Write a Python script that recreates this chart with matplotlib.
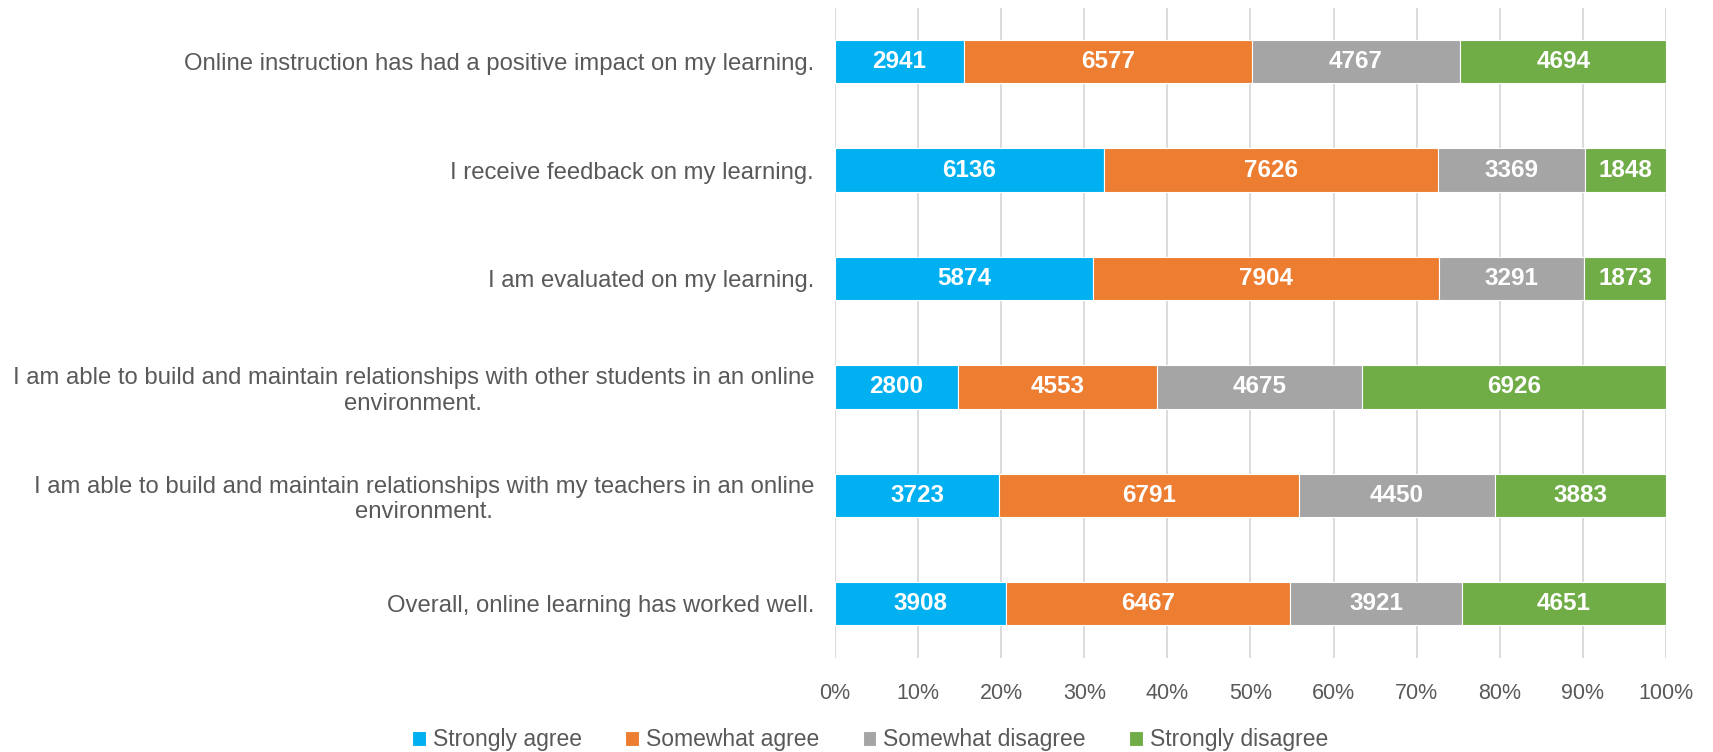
import matplotlib
matplotlib.use("Agg")
import matplotlib.pyplot as plt
import numpy as np

categories = [
    "Online instruction has had a positive impact on my learning.",
    "I receive feedback on my learning.",
    "I am evaluated on my learning.",
    "I am able to build and maintain relationships with other students in an online\nenvironment.",
    "I am able to build and maintain relationships with my teachers in an online\nenvironment.",
    "Overall, online learning has worked well.",
]
series_names = ["Strongly agree", "Somewhat agree", "Somewhat disagree", "Strongly disagree"]
strongly_agree = [2941, 6136, 5874, 2800, 3723, 3908]
somewhat_agree = [6577, 7626, 7904, 4553, 6791, 6467]
somewhat_disagree = [4767, 3369, 3291, 4675, 4450, 3921]
strongly_disagree = [4694, 1848, 1873, 6926, 3883, 4651]
colors = ["#00B0F0", "#ED7D31", "#A5A5A5", "#70AD47"]
xtick_labels = ["0%", "10%", "20%", "30%", "40%", "50%", "60%", "70%", "80%", "90%", "100%"]

plt.rcParams['font.family'] = ['Liberation Sans', 'DejaVu Sans']

data = np.array([strongly_agree, somewhat_agree, somewhat_disagree, strongly_disagree], dtype=float)
totals = data.sum(axis=0)
pct = data / totals

fig = plt.figure(figsize=(17.13, 7.52), dpi=100)
ax = fig.add_axes([0.4874, 0.125, 0.4852, 0.865])

y = np.arange(len(categories))
left = np.zeros(len(categories))
for i, name in enumerate(series_names):
    bars = ax.barh(y, pct[i], left=left, height=0.4, color=colors[i],
                   edgecolor="white", linewidth=0.8, label=name, zorder=3)
    for j, b in enumerate(bars):
        ax.text(left[j] + pct[i][j] / 2, y[j], f"{int(data[i][j])}", ha="center", va="center",
                color="white", fontsize=17.5, fontweight="bold", zorder=4)
    left += pct[i]

ax.set_xlim(0, 1)
ax.set_ylim(len(categories) - 0.5, -0.5)
ax.set_xticks(np.linspace(0, 1, 11))
ax.set_xticklabels(xtick_labels, fontsize=15.5)
ax.set_yticks(y)
ax.set_yticklabels(categories, multialignment="center", fontsize=17.2)
ax.tick_params(axis="both", length=0, colors="#595959")
ax.tick_params(axis="x", pad=18)
ax.tick_params(axis="y", pad=15)
ax.xaxis.grid(True, color="#D9D9D9", linewidth=1.3, zorder=0)
for s in ax.spines.values():
    s.set_visible(False)

handles, labels = ax.get_legend_handles_labels()
leg = fig.legend(handles, labels, loc="center", bbox_to_anchor=(0.508, 0.016), ncol=4,
                 frameon=False, fontsize=16.5, handlelength=0.6, handleheight=0.6,
                 handletextpad=0.3, columnspacing=1.9, labelcolor="#595959")

fig.savefig("out.png", dpi=100)
